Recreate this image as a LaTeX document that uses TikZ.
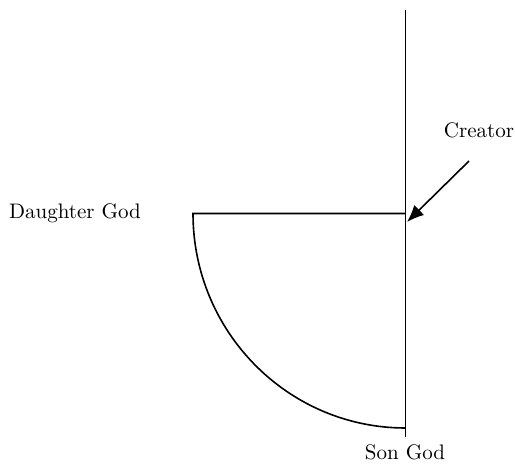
\documentclass[tikz,border=0pt]{standalone}
\usepackage{tikz}
\usetikzlibrary{arrows.meta, positioning}

\begin{document}
\begin{tikzpicture}[
    x=0.5pt, y=0.5pt,
    line/.style={line width=0.8pt},
    arrow/.style={-{Latex[length=8.5pt, width=7pt]}, line width=0.8pt},
    label/.style={font=\fontsize{10.5}{12}\selectfont}
]
\useasboundingbox (0,0) rectangle (515,467);
\coordinate (top) at (405.5,457);
\coordinate (bottom) at (405.5,30);
\coordinate (join) at (405.5,253.5);
\coordinate (corner) at (193,253.5);
\coordinate (tail) at (469,306);
\coordinate (tip) at (407,245);
\node[label] (creator) at (479,337) {Creator};
\node[label] (daughter) at (75,254) {Daughter God};
\node[label] (son) at (405,15) {Son God};
\draw[line] (top) -- (bottom);
\draw[line] (join) -- (corner) arc[start angle=180, end angle=270, x radius=212.5, y radius=214.5];
\draw[arrow] (tail) -- (tip);
\end{tikzpicture}
\end{document}
